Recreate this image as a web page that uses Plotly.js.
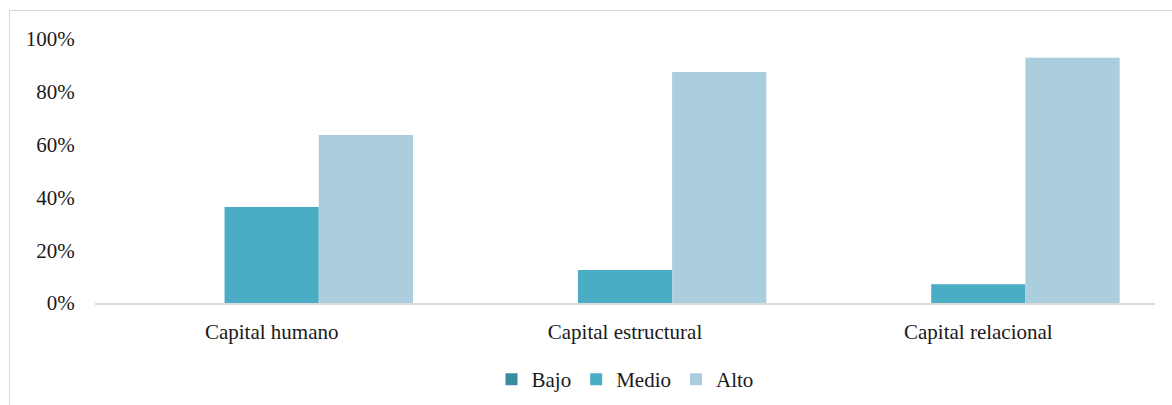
<!DOCTYPE html>
<html>
<head>
<meta charset="utf-8">
<script src="https://cdn.plot.ly/plotly-3.0.1.min.js"></script>
<style>
  html, body { margin: 0; padding: 0; background: #fff; }
  #wrap { position: relative; width: 1172px; height: 405px; overflow: hidden; }
  #chart { width: 1172px; height: 405px; }
  #frame { position: absolute; left: 9px; top: 10px; width: 1200px; height: 420px; border: 1.5px solid #d9d9d9; pointer-events: none; box-sizing: border-box; }
</style>
</head>
<body>
<div id="wrap">
  <div id="chart"></div>
  <div id="frame"></div>
</div>
<script>
const categories = ["Capital humano", "Capital estructural", "Capital relacional"];
const seriesNames = ["Bajo", "Medio", "Alto"];
const bajo = [0, 0, 0];
const medio = [0.364, 0.125, 0.071];
const alto = [0.636, 0.875, 0.929];
const colors = ["#3a8ca3", "#4bacc6", "#aacedd"];

const values = [bajo, medio, alto];
const traces = seriesNames.map((name, i) => ({
  type: "bar",
  name: name,
  x: categories,
  y: values[i],
  marker: { color: colors[i] },
  hoverinfo: "x+y+name"
}));

const serif = "'Liberation Serif', 'Times New Roman', serif";
const layout = {
  width: 1172,
  height: 405,
  margin: { l: 95, r: 17, t: 39, b: 102, autoexpand: false },
  paper_bgcolor: "rgba(0,0,0,0)",
  plot_bgcolor: "rgba(0,0,0,0)",
  font: { family: serif, size: 21, color: "#1a1a1a" },
  barmode: "group",
  bargap: 0.2,
  bargroupgap: 0,
  showlegend: true,
  legend: {
    orientation: "h",
    x: 0.5, xanchor: "center",
    y: -0.29, yanchor: "middle",
    font: { family: serif, size: 21, color: "#1a1a1a" },
    itemwidth: 30,
    traceorder: "normal"
  },
  xaxis: {
    showgrid: false,
    showline: true,
    linecolor: "#d9d9d9",
    linewidth: 2,
    ticks: "outside",
    ticklen: 9,
    tickcolor: "rgba(0,0,0,0)",
    tickfont: { family: serif, size: 21 },
    zeroline: false,
    automargin: false
  },
  yaxis: {
    range: [0, 1],
    dtick: 0.2,
    tickformat: ".0%",
    showgrid: false,
    zeroline: false,
    showline: false,
    ticks: "outside",
    ticklen: 15,
    tickcolor: "rgba(0,0,0,0)",
    tickfont: { family: serif, size: 21 },
    automargin: false
  }
};

Plotly.newPlot("chart", traces, layout, { displayModeBar: false, staticPlot: true });
</script>
</body>
</html>
